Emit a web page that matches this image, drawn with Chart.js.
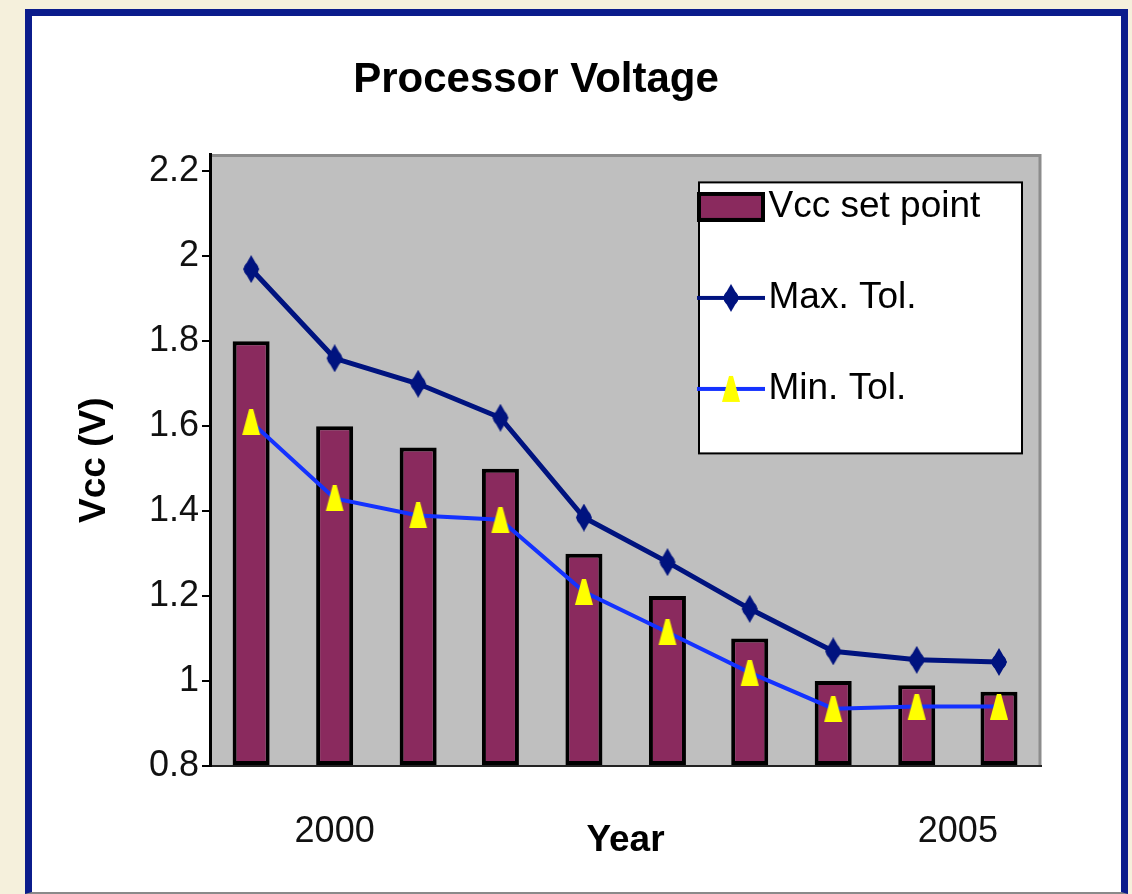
<!DOCTYPE html>
<html>
<head>
<meta charset="UTF-8">
<script src="https://cdn.jsdelivr.net/npm/chart.js@4.4.0/dist/chart.umd.min.js"></script>
<style>
  body { margin: 0; background: #F5F0DC; width: 1132px; height: 894px; overflow: hidden; }
  #panel { position: absolute; left: 25px; top: 9px; width: 1089px; height: 876px; background: #fff;
           border: 7px solid #0b1c8c; border-bottom: 2px solid #8a8a8a; }
  #voltChart { position: absolute; left: -9px; top: 0; }
</style>
</head>
<body>
<div id="panel">
  <canvas id="voltChart" width="1027" height="871"></canvas>
</div>
<script>
// values
var years = [1999.33, 2000, 2000.67, 2001.33, 2002, 2002.67, 2003.33, 2004, 2004.67, 2005.33];
var vccSetPoint = [1.8, 1.6, 1.55, 1.5, 1.3, 1.2, 1.1, 1.0, 0.99, 0.975];
var maxTol = [1.97, 1.76, 1.70, 1.62, 1.385, 1.28, 1.17, 1.07, 1.05, 1.045];
var minTol = [1.61, 1.43, 1.39, 1.38, 1.21, 1.115, 1.02, 0.935, 0.94, 0.94];
var seriesNames = ['Vcc set point', 'Max. Tol.', 'Min. Tol.'];
var yearTicks = [2000, 2005];
var voltTicks = [0.8, 1, 1.2, 1.4, 1.6, 1.8, 2, 2.2];

var FONT = "'Liberation Sans', Arial, sans-serif";
var BAR_COLOR = '#8a2a5e';
var MAX_COLOR = '#00137f';
var MIN_COLOR = '#1432ff';

function pts(vals) {
    return vals.map(function (v, i) { return { x: years[i], y: v }; });
}

function makeCanvas(w, h) {
    var c = document.createElement('canvas');
    c.width = w; c.height = h;
    return c;
}

// marker images
var diamond = makeCanvas(20, 28);
var g = diamond.getContext('2d');
g.fillStyle = MAX_COLOR;
g.beginPath(); g.moveTo(10, 0); g.lineTo(18, 14); g.lineTo(10, 28); g.lineTo(2, 14); g.closePath(); g.fill();
g.beginPath(); g.arc(10, 14, 7.5, 0, Math.PI * 2); g.fill();

var triangle = makeCanvas(20, 26);
g = triangle.getContext('2d');
g.fillStyle = '#ffff00';
g.beginPath(); g.moveTo(8, 0); g.lineTo(12, 0); g.lineTo(19, 26); g.lineTo(1, 26); g.closePath(); g.fill();

// legend symbols
function lineSymbol(color, marker) {
    var c = makeCanvas(68, 30), x = c.getContext('2d');
    x.strokeStyle = color; x.lineWidth = 4;
    x.beginPath(); x.moveTo(0, 15); x.lineTo(68, 15); x.stroke();
    x.drawImage(marker, 34 - marker.width / 2, 15 - marker.height / 2);
    return c;
}
var barSymbol = makeCanvas(68, 30);
g = barSymbol.getContext('2d');
g.fillStyle = '#000'; g.fillRect(0, 0, 68, 30);
g.fillStyle = BAR_COLOR; g.fillRect(4, 4, 60, 22);
var legendSymbols = [barSymbol, lineSymbol(MAX_COLOR, diamond), lineSymbol(MIN_COLOR, triangle)];

var panelPlugin = {
    id: 'panelPlugin',
    afterLayout: function (chart) {
        var a = chart.chartArea, lg = chart.legend;
        var pad = lg.options.labels.padding;
        lg.left = a.right - 329 - pad;
        lg.top = a.top + 34 - pad;
        lg.right = a.right;
        lg.bottom = a.bottom;
    },
    beforeDraw: function (chart) {
        var a = chart.chartArea, ctx = chart.ctx;
        ctx.save();
        ctx.fillStyle = '#bfbfbf';
        ctx.fillRect(a.left, a.top, a.right - a.left, a.bottom - a.top);
        ctx.strokeStyle = '#8c8c8c';
        ctx.lineWidth = 3;
        ctx.beginPath();
        ctx.moveTo(a.left, a.top + 1); ctx.lineTo(a.right - 1, a.top + 1); ctx.lineTo(a.right - 1, a.bottom);
        ctx.stroke();
        // legend frame
        ctx.fillStyle = '#fff';
        ctx.fillRect(a.right - 342, a.top + 28, 323, 271);
        ctx.strokeStyle = '#000';
        ctx.lineWidth = 2;
        ctx.strokeRect(a.right - 342, a.top + 28, 323, 271);
        ctx.restore();
    }
};

Chart.defaults.font.family = FONT;

new Chart(document.getElementById('voltChart'), {
    type: 'bar',
    data: {
        datasets: [{
            type: 'bar',
            label: seriesNames[0],
            data: pts(vccSetPoint),
            backgroundColor: BAR_COLOR,
            borderColor: '#000',
            borderWidth: 4,
            borderSkipped: false,
            base: 0.8,
            barPercentage: 0.45,
            categoryPercentage: 1,
            order: 3
        }, {
            type: 'line',
            label: seriesNames[1],
            data: pts(maxTol),
            borderColor: MAX_COLOR,
            borderWidth: 5,
            tension: 0,
            pointStyle: diamond,
            order: 1
        }, {
            type: 'line',
            label: seriesNames[2],
            data: pts(minTol),
            borderColor: MIN_COLOR,
            borderWidth: 4,
            tension: 0,
            pointStyle: triangle,
            order: 2
        }]
    },
    options: {
        responsive: false,
        animation: false,
        events: [],
        layout: { padding: { left: 0, right: 1, top: 0, bottom: 0 } },
        plugins: {
            title: {
                display: true,
                text: 'Processor Voltage',
                color: '#000',
                font: { size: 42, weight: 'bold' },
                padding: { top: 39, bottom: 49 }
            },
            legend: {
                position: 'chartArea',
                align: 'start',
                labels: {
                    color: '#000',
                    font: { size: 37 },
                    usePointStyle: true,
                    pointStyleWidth: 38,
                    padding: 54,
                    sort: function (a, b) { return a.datasetIndex - b.datasetIndex; },
                    generateLabels: function (chart) {
                        var items = Chart.defaults.plugins.legend.labels.generateLabels(chart);
                        items.forEach(function (it) {
                            it.pointStyle = legendSymbols[it.datasetIndex];
                            it.rotation = 0;
                        });
                        return items;
                    }
                }
            },
            tooltip: { enabled: false }
        },
        scales: {
            x: {
                type: 'linear',
                offset: false,
                min: 1999,
                max: 2005.667,
                afterBuildTicks: function (s) { s.ticks = yearTicks.map(function (v) { return { value: v }; }); },
                afterFit: function (s) { s.height = 121; },
                ticks: {
                    color: '#111', font: { size: 36 }, padding: 2, maxRotation: 0, autoSkip: false,
                    callback: function (v) { return String(v); }
                },
                grid: { display: false, drawTicks: true, tickLength: 42 },
                border: { display: true, color: '#222', width: 2 },
                title: {
                    display: true, text: 'Year', color: '#000',
                    font: { size: 37, weight: 'bold' },
                    padding: { top: 0, bottom: 24 }
                }
            },
            y: {
                min: 0.8,
                max: 2.24,
                afterBuildTicks: function (s) { s.ticks = voltTicks.map(function (v) { return { value: v }; }); },
                afterFit: function (s) { s.width = 187; },
                ticks: {
                    color: '#111', font: { size: 36 }, padding: 3,
                    callback: function (v) { return String(v); }
                },
                grid: { display: true, drawOnChartArea: false, drawTicks: true, tickLength: 8, color: '#000', lineWidth: 2 },
                border: { display: true, color: '#000', width: 3 },
                title: {
                    display: true, text: 'Vcc (V)', color: '#000',
                    font: { size: 37, weight: 'bold' },
                    padding: { top: 50, bottom: 34 }
                }
            }
        }
    },
    plugins: [panelPlugin]
});
</script>
</body>
</html>
